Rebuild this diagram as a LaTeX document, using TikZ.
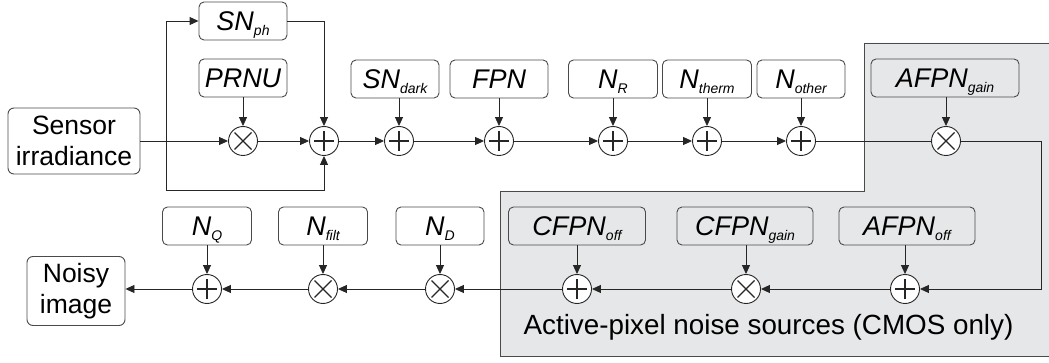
\documentclass[tikz,border=0pt]{standalone}
\usepackage{fontspec}
\setmainfont{Liberation Sans}
\usetikzlibrary{arrows.meta}
\definecolor{regiongray}{HTML}{E6E7E8}
\definecolor{linecol}{HTML}{262626}
\definecolor{boxcol}{HTML}{4A4A4A}
\newcommand{\sbs}[1]{\raisebox{-5.5pt}[0pt][0pt]{\fontsize{14}{14}\selectfont #1}}
\begin{document}
\begin{tikzpicture}[x=1pt,y=-1pt,
  line width=0.9pt,
  conn/.style={draw=linecol, line width=0.9pt},
  arr/.style={conn, -{Triangle[length=9pt,width=8pt]}},
  noisebox/.style={draw=boxcol, line width=0.9pt, rounded corners=5pt, minimum height=38pt, inner sep=0pt, font=\fontsize{27}{30}\selectfont\itshape},
  mainbox/.style={draw=boxcol, line width=0.9pt, rounded corners=6pt, align=center, inner sep=0pt, font=\fontsize{26.5}{30.5}\selectfont},
  opc/.style={draw=linecol, line width=0.9pt, circle, minimum size=29pt, inner sep=0pt, fill=white},
  sumc/.style={opc, path picture={
    \draw[line width=1.5pt] ([xshift=-10pt]path picture bounding box.center) -- ([xshift=10pt]path picture bounding box.center)
      ([yshift=-10pt]path picture bounding box.center) -- ([yshift=10pt]path picture bounding box.center);}},
  mulc/.style={opc, path picture={
    \draw[line width=1.3pt] ([xshift=-8.5pt,yshift=-8.5pt]path picture bounding box.center) -- ([xshift=8.5pt,yshift=8.5pt]path picture bounding box.center)
      ([xshift=-8.5pt,yshift=8.5pt]path picture bounding box.center) -- ([xshift=8.5pt,yshift=-8.5pt]path picture bounding box.center);}},
]
\useasboundingbox (0,0) rectangle (1049,363);

% gray region
\fill[regiongray] (864,43) -- (1049,43) -- (1049,356) -- (500,356) -- (500,191) -- (864,191) -- cycle;
\draw[boxcol, line width=0.9pt] (1049,43) -- (864,43) -- (864,191) -- (500,191) -- (500,356) -- (1049,356);

% main boxes
\node[mainbox, minimum width=132pt, minimum height=66pt] (sensor) at (74,141) {Sensor\\irradiance};
\node[mainbox, minimum width=98pt, minimum height=69pt] (noisy) at (76,291) {Noisy\\image};

% top row noise boxes
\node[noisebox, minimum width=88pt] (snph) at (243,21) {SN\sbs{ph}};
\node[noisebox, minimum width=88pt] (prnu) at (243,78) {PRNU};
\node[noisebox, minimum width=88pt] (sndark) at (395,79) {SN\sbs{dark}};
\node[noisebox, minimum width=98pt] (fpn) at (499,79) {FPN};
\node[noisebox, minimum width=89pt] (nr) at (613,79) {N\sbs{R}};
\node[noisebox, minimum width=89pt] (ntherm) at (707,79) {N\sbs{therm}};
\node[noisebox, minimum width=88pt] (nother) at (801,79) {N\sbs{other}};
\node[noisebox, minimum width=148pt] (afpng) at (945,78) {AFPN\sbs{gain}};

% bottom row noise boxes
\node[noisebox, minimum width=136pt] (afpno) at (907,226) {AFPN\sbs{off}};
\node[noisebox, minimum width=136pt] (cfpng) at (745,226) {CFPN\sbs{gain}};
\node[noisebox, minimum width=137pt] (cfpno) at (577,226) {CFPN\sbs{off}};
\node[noisebox, minimum width=88pt] (nd) at (440,226) {N\sbs{D}};
\node[noisebox, minimum width=89pt] (nfilt) at (323,226) {N\sbs{filt}};
\node[noisebox, minimum width=89pt] (nq) at (207,226) {N\sbs{Q}};

% operators top row
\node[mulc] (m1) at (243,141) {};
\node[sumc] (s1) at (324,141) {};
\node[sumc] (s2) at (399,141) {};
\node[sumc] (s3) at (499,141) {};
\node[sumc] (s4) at (613,141) {};
\node[sumc] (s5) at (707,141) {};
\node[sumc] (s6) at (801,141) {};
\node[mulc] (m2) at (946,141) {};

% operators bottom row
\node[sumc] (b1) at (905,289) {};
\node[mulc] (b2) at (746,289) {};
\node[sumc] (b3) at (577,289) {};
\node[mulc] (b4) at (440,289) {};
\node[mulc] (b5) at (323,289) {};
\node[sumc] (b6) at (207,289) {};

% label
\node[font=\fontsize{27.8}{30}\selectfont, inner sep=0pt] (lbl) at (768.5,327) {Active-pixel noise sources (CMOS only)};

% coordinates
\coordinate (br) at (166,141);
\coordinate (bl) at (166,190);
\coordinate (rc) at (1041,141);

% connectors top
\draw[conn] (sensor.east) -- (br);
\draw[arr] (br) -- (m1.west);
\draw[arr] (br) |- (snph.west);
\draw[conn] (br) -- (bl);
\draw[arr] (bl) -| (s1.south);
\draw[arr] (snph.east) -| (s1.north);
\draw[arr] (prnu.south) -- (m1.north);
\draw[arr] (m1.east) -- (s1.west);
\draw[arr] (s1.east) -- (s2.west);
\draw[arr] (s2.east) -- (s3.west);
\draw[arr] (s3.east) -- (s4.west);
\draw[arr] (s4.east) -- (s5.west);
\draw[arr] (s5.east) -- (s6.west);
\draw[conn] (s6.east) -- (m2.west);
\draw[arr] (sndark.south -| s2) -- (s2.north);
\draw[arr] (fpn.south) -- (s3.north);
\draw[arr] (nr.south) -- (s4.north);
\draw[arr] (ntherm.south) -- (s5.north);
\draw[arr] (nother.south) -- (s6.north);
\draw[arr] (afpng.south -| m2) -- (m2.north);

% right return
\draw[arr] (m2.east) -- (rc) |- (b1.east);

% bottom row
\draw[arr] (b1.west) -- (b2.east);
\draw[arr] (b2.west) -- (b3.east);
\draw[arr] (b3.west) -- (b4.east);
\draw[arr] (b4.west) -- (b5.east);
\draw[arr] (b5.west) -- (b6.east);
\draw[arr] (b6.west) -- (noisy.east |- b6);
\draw[arr] (afpno.south -| b1) -- (b1.north);
\draw[arr] (cfpng.south -| b2) -- (b2.north);
\draw[arr] (cfpno.south) -- (b3.north);
\draw[arr] (nd.south) -- (b4.north);
\draw[arr] (nfilt.south) -- (b5.north);
\draw[arr] (nq.south) -- (b6.north);
\end{tikzpicture}
\end{document}
